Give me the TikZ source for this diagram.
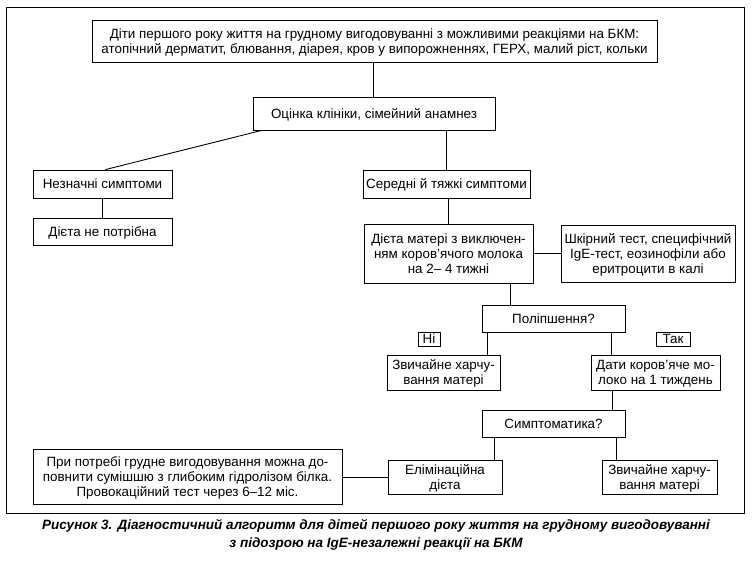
\documentclass[tikz,border=0pt]{standalone}
\usepackage{fontspec}
\setmainfont{Liberation Sans}
\usetikzlibrary{calc}
\tikzset{
  box/.style={draw=black, line width=0.9pt, inner sep=0pt, align=center, text depth=0pt,
    font=\fontsize{13.4}{15}\selectfont},
  lbl/.style={draw=black, line width=0.9pt, inner sep=0pt, align=center,
    font=\fontsize{13.4}{13}\selectfont},
  conn/.style={draw=black, line width=0.9pt}
}
\begin{document}
\begin{tikzpicture}[x=1pt,y=-1pt]
\useasboundingbox (0,0) rectangle (753,561);
\draw[line width=0.9pt] (6,7) rectangle (744,513);

\node[box, minimum width=565, minimum height=42] (top) at (374.5,41)
  {Діти першого року життя на грудному вигодовуванні з можливими реакціями на БКМ:\\атопічний дерматит, блювання, діарея, кров у випорожненнях, ГЕРХ, малий ріст, кольки};
\node[box, minimum width=242, minimum height=33] (ocin) at (374,113.5) {Оцінка клініки, сімейний анамнез};
\node[box, minimum width=139, minimum height=28] (nez) at (102.5,184) {Незначні симптоми};
\node[box, minimum width=139, minimum height=27] (dnp) at (102.5,231.5) {Дієта не потрібна};
\node[box, minimum width=167, minimum height=28] (sered) at (446.5,184) {Середні й тяжкі симптоми};
\node[box, minimum width=169, minimum height=59] (dmat) at (448.5,253.5) {Дієта матері з виключен-\\ням коров’ячого молока\\на 2– 4 тижні};
\node[box, minimum width=174, minimum height=57] (shk) at (648,253.5) {Шкірний тест, специфічний\\IgE-тест, еозинофіли або\\еритроцити в калі};
\node[box, minimum width=143, minimum height=27] (pol) at (553.5,318.5) {Поліпшення?};
\node[lbl, minimum width=22, minimum height=14] (ni) at (429,339) {Ні};
\node[lbl, minimum width=34, minimum height=14] (tak) at (673,339) {Так};
\node[box, minimum width=113, minimum height=35] (zv1) at (443.5,372.5) {Звичайне харчу-\\вання матері};
\node[box, minimum width=129, minimum height=35] (dati) at (655.5,372.5) {Дати коров’яче мо-\\локо на 1 тиждень};
\node[box, minimum width=143, minimum height=27] (sym) at (553.5,423.5) {Симптоматика?};
\node[box, minimum width=114, minimum height=34] (elim) at (445,477) {Елімінаційна\\дієта};
\node[box, minimum width=115, minimum height=34] (zv2) at (659.5,477) {Звичайне харчу-\\вання матері};
\node[box, minimum width=309, minimum height=55] (pri) at (187.5,477) {При потребі грудне вигодовування можна до-\\повнити сумішшю з глибоким гідролізом білка.\\Провокаційний тест через 6–12 міс.};

\node[align=center, font=\fontsize{13.5}{18}\selectfont\bfseries\itshape] (cap) at (376,535)
  {Рисунок 3. Діагностичний алгоритм для дітей першого року життя на грудному вигодовуванні\\з підозрою на IgE-незалежні реакції на БКМ};

\draw[conn] ([xshift=-1.5pt]top.south) -- ([xshift=-1.5pt]top.south |- ocin.north);
\draw[conn] ([xshift=9pt]ocin.south west) -- ([xshift=3pt]nez.north);
\draw[conn] (sered.north |- ocin.south) -- (sered.north);
\draw[conn] (nez.south) -- (dnp.north);
\draw[conn] ([xshift=1.5pt]sered.south) -- ([xshift=1.5pt]sered.south |- dmat.north);
\draw[conn] (dmat.east) -- (shk.west);
\draw[conn] ([xshift=-23pt]dmat.south east) -- ([xshift=-23pt]dmat.south east |- pol.north);
\draw[conn] ([xshift=6pt]pol.south west) -- ([xshift=6pt]pol.south west |- zv1.north);
\draw[conn] ([xshift=-14pt]pol.south east) -- ([xshift=-14pt]pol.south east |- dati.north);
\draw[conn] ([xshift=22pt]dati.south west) -- ([xshift=22pt]dati.south west |- sym.north);
\draw[conn] ([xshift=13pt]sym.south west) -- ([xshift=13pt]sym.south west |- elim.north);
\draw[conn] ([xshift=-9pt]sym.south east) -- ([xshift=-9pt]sym.south east |- zv2.north);
\draw[conn] (pri.east) -- (elim.west);
\end{tikzpicture}
\end{document}
